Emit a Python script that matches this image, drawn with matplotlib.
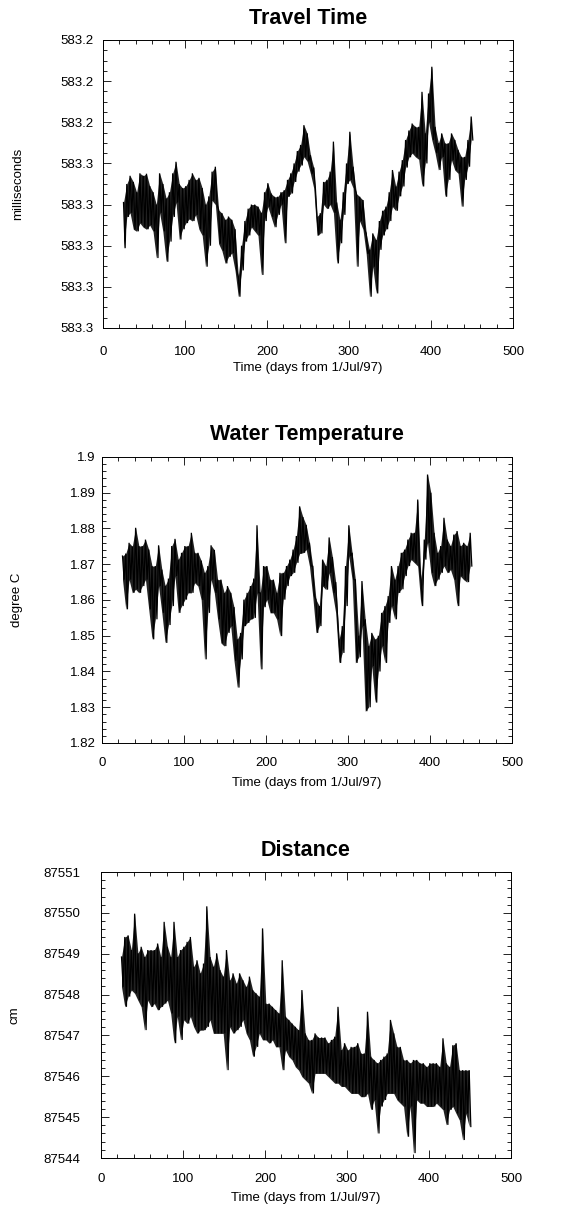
import numpy as np
import matplotlib
matplotlib.use("Agg")
import matplotlib.pyplot as plt
from matplotlib.ticker import MultipleLocator, FixedLocator, FixedFormatter

plt.rcParams['font.family'] = ['Liberation Sans', 'DejaVu Sans']

# sampling grid (days from 1/Jul/97)
days = np.arange(25, 452, 2)

# Travel time (ms) (alternating upper / lower excursions)
travel_time = [
    583.2645, 583.2756, 583.2600, 583.2680, 583.2580, 583.2670, 583.2595, 583.2710,
    583.2620, 583.2715, 583.2574, 583.2695, 583.2580, 583.2705, 583.2575, 583.2710,
    583.2605, 583.2700, 583.2620, 583.2715, 583.2650, 583.2780, 583.2574, 583.2670,
    583.2600, 583.2715, 583.2635, 583.2789, 583.2620, 583.2740, 583.2574, 583.2680,
    583.2546, 583.2645, 583.2600, 583.2735, 583.2610, 583.2710, 583.2605, 583.2695,
    583.2590, 583.2685, 583.2574, 583.2690, 583.2590, 583.2675, 583.2585, 583.2710,
    583.2610, 583.2725, 583.2650, 583.2801, 583.2630, 583.2750, 583.2570, 583.2640,
    583.2558, 583.2650, 583.2663, 583.2745, 583.2671, 583.2762, 583.2687, 583.2793,
    583.2679, 583.2777, 583.2687, 583.2768, 583.2710, 583.2810, 583.2825, 583.2874,
    583.2750, 583.2810, 583.2690, 583.2740, 583.2660, 583.2725, 583.2650, 583.2705,
    583.2650, 583.2715, 583.2655, 583.2725, 583.2670, 583.2821, 583.2620, 583.2690,
    583.2598, 583.2655, 583.2623, 583.2680, 583.2631, 583.2705, 583.2631, 583.2675,
    583.2620, 583.2650, 583.2615, 583.2744, 583.2590, 583.2631, 583.2574, 583.2623,
    583.2550, 583.2595, 583.2520, 583.2570, 583.2505, 583.2555, 583.2457, 583.2534,
    583.2477, 583.2545, 583.2530, 583.2575, 583.2560, 583.2610, 583.2679, 583.2725,
    583.2671, 583.2720, 583.2595, 583.2650, 583.2590, 583.2660, 583.2570, 583.2650,
    583.2497, 583.2670, 583.2645, 583.2793, 583.2687, 583.2744, 583.2620, 583.2675,
    583.2550, 583.2600, 583.2473, 583.2590, 583.2558, 583.2610, 583.2623, 583.2801,
    583.2631, 583.2690, 583.2639, 583.2710, 583.2720, 583.2770, 583.2760, 583.2874,
    583.2720, 583.2801, 583.2736, 583.2866, 583.2690, 583.2760, 583.2665, 583.2725,
    583.2655, 583.2710, 583.2620, 583.2690, 583.2566, 583.2655, 583.2606, 583.2665,
    583.2570, 583.2630, 583.2542, 583.2606, 583.2493, 583.2560, 583.2470, 583.2535,
    583.2453, 583.2525, 583.2461, 583.2534, 583.2461, 583.2540, 583.2376, 583.2606,
    583.2477, 583.2550, 583.2380, 583.2450, 583.2315, 583.2493, 583.2461, 583.2525,
    583.2501, 583.2566, 583.2477, 583.2534, 583.2501, 583.2631, 583.2501, 583.2590,
    583.2477, 583.2542, 583.2493, 583.2566, 583.2517, 583.2574, 583.2534, 583.2655,
    583.2534, 583.2590, 583.2493, 583.2558, 583.2436, 583.2493,
]

# Water temperature (degree C)
water_temp = [
    1.8723, 1.8657, 1.8730, 1.8574, 1.8760, 1.8657, 1.8750, 1.8620,
    1.8802, 1.8630, 1.8751, 1.8620, 1.8751, 1.8639, 1.8769, 1.8657,
    1.8741, 1.8574, 1.8695, 1.8490, 1.8695, 1.8546, 1.8753, 1.8639,
    1.8685, 1.8564, 1.8640, 1.8480, 1.8660, 1.8530, 1.8751, 1.8583,
    1.8771, 1.8667, 1.8713, 1.8564, 1.8732, 1.8583, 1.8751, 1.8601,
    1.8751, 1.8620, 1.8788, 1.8620, 1.8732, 1.8648, 1.8732, 1.8639,
    1.8710, 1.8600, 1.8676, 1.8434, 1.8695, 1.8564, 1.8753, 1.8657,
    1.8740, 1.8620, 1.8657, 1.8546, 1.8657, 1.8480, 1.8620, 1.8471,
    1.8639, 1.8508, 1.8620, 1.8527, 1.8580, 1.8430, 1.8490, 1.8355,
    1.8508, 1.8434, 1.8601, 1.8527, 1.8620, 1.8536, 1.8639, 1.8546,
    1.8660, 1.8550, 1.8809, 1.8620, 1.8620, 1.8406, 1.8695, 1.8580,
    1.8695, 1.8601, 1.8657, 1.8564, 1.8657, 1.8564, 1.8620, 1.8546,
    1.8676, 1.8499, 1.8676, 1.8601, 1.8695, 1.8639, 1.8713, 1.8667,
    1.8741, 1.8676, 1.8779, 1.8704, 1.8862, 1.8730, 1.8832, 1.8732,
    1.8810, 1.8741, 1.8760, 1.8695, 1.8695, 1.8611, 1.8601, 1.8508,
    1.8583, 1.8527, 1.8713, 1.8639, 1.8695, 1.8629, 1.8775, 1.8676,
    1.8720, 1.8620, 1.8650, 1.8564, 1.8490, 1.8424, 1.8527, 1.8452,
    1.8695, 1.8583, 1.8809, 1.8723, 1.8732, 1.8657, 1.8657, 1.8424,
    1.8500, 1.8440, 1.8653, 1.8527, 1.8546, 1.8289, 1.8471, 1.8300,
    1.8508, 1.8415, 1.8490, 1.8313, 1.8500, 1.8400, 1.8564, 1.8471,
    1.8583, 1.8424, 1.8611, 1.8536, 1.8695, 1.8583, 1.8657, 1.8546,
    1.8695, 1.8620, 1.8732, 1.8630, 1.8741, 1.8667, 1.8769, 1.8695,
    1.8788, 1.8713, 1.8788, 1.8704, 1.8881, 1.8695, 1.8657, 1.8583,
    1.8769, 1.8713, 1.8951, 1.8760, 1.8900, 1.8676, 1.8788, 1.8639,
    1.8732, 1.8657, 1.8751, 1.8676, 1.8830, 1.8695, 1.8769, 1.8676,
    1.8751, 1.8685, 1.8783, 1.8657, 1.8793, 1.8583, 1.8751, 1.8667,
    1.8760, 1.8657, 1.8751, 1.8650, 1.8788, 1.8695,
]

# Distance (cm)
distance = [
    87548.92, 87548.19, 87549.41, 87547.70, 87549.45, 87547.95, 87549.09, 87548.11,
    87549.98, 87548.03, 87549.01, 87547.86, 87549.17, 87547.70, 87548.92, 87547.13,
    87549.09, 87547.86, 87549.09, 87547.70, 87549.09, 87547.78, 87549.25, 87547.62,
    87548.92, 87547.70, 87549.78, 87547.78, 87549.17, 87547.86, 87548.92, 87547.54,
    87549.78, 87546.81, 87548.92, 87547.46, 87549.09, 87546.89, 87549.17, 87547.38,
    87549.29, 87547.29, 87549.41, 87547.46, 87548.68, 87547.21, 87548.84, 87547.05,
    87548.52, 87547.13, 87548.76, 87547.13, 87550.16, 87547.21, 87548.92, 87547.38,
    87548.68, 87547.05, 87549.01, 87547.05, 87548.60, 87547.05, 87548.44, 87547.05,
    87549.09, 87546.15, 87548.35, 87547.21, 87548.52, 87547.05, 87548.27, 87547.13,
    87548.52, 87547.21, 87548.35, 87547.38, 87548.19, 87547.05, 87548.44, 87546.89,
    87548.11, 87546.48, 87548.03, 87546.72, 87547.95, 87547.05, 87549.62, 87546.89,
    87547.78, 87546.89, 87547.78, 87546.81, 87547.70, 87546.89, 87547.62, 87546.72,
    87547.54, 87546.72, 87548.84, 87546.15, 87547.46, 87546.64, 87547.38, 87546.48,
    87547.29, 87546.40, 87547.21, 87546.23, 87547.13, 87546.15, 87548.11, 87545.99,
    87547.05, 87545.91, 87546.89, 87545.83, 87546.89, 87545.58, 87547.05, 87546.07,
    87546.95, 87546.07, 87546.95, 87546.07, 87546.95, 87546.07, 87546.81, 87545.99,
    87546.89, 87545.91, 87546.97, 87545.83, 87547.70, 87545.83, 87546.64, 87545.75,
    87546.81, 87545.75, 87546.64, 87545.66, 87546.72, 87545.58, 87546.72, 87545.58,
    87546.81, 87545.58, 87546.56, 87545.50, 87546.56, 87545.50, 87547.58, 87545.58,
    87546.48, 87545.18, 87546.40, 87545.42, 87546.32, 87544.60, 87546.40, 87545.26,
    87546.48, 87545.42, 87546.56, 87545.58, 87547.38, 87545.58, 87547.05, 87545.58,
    87546.72, 87545.42, 87546.72, 87545.34, 87546.40, 87545.26, 87546.40, 87544.52,
    87546.32, 87545.26, 87546.40, 87544.12, 87546.40, 87545.42, 87546.32, 87545.34,
    87546.32, 87545.34, 87546.23, 87545.26, 87546.32, 87545.26, 87546.32, 87545.26,
    87546.32, 87545.34, 87546.23, 87545.26, 87546.93, 87545.18, 87546.32, 87544.81,
    87546.23, 87545.18, 87546.76, 87545.26, 87546.81, 87545.09, 87546.15, 87544.93,
    87546.15, 87544.44, 87546.15, 87545.09, 87546.15, 87544.77,
]

# axis ticks and labels
x_ticks = [0, 100, 200, 300, 400, 500]
tt_ticks = [583.225, 583.235, 583.245, 583.255, 583.265, 583.275, 583.285, 583.295]
tt_labels = ["583.2", "583.2", "583.2", "583.3", "583.3", "583.3", "583.3", "583.3"]
wt_ticks = [1.82, 1.83, 1.84, 1.85, 1.86, 1.87, 1.88, 1.89, 1.90]
wt_labels = ["1.82", "1.83", "1.84", "1.85", "1.86", "1.87", "1.88", "1.89", "1.9"]
d_ticks = [87544, 87545, 87546, 87547, 87548, 87549, 87550, 87551]
d_labels = [str(v) for v in d_ticks]

W, H = 571, 1207
fig = plt.figure(figsize=(W / 100, H / 100), dpi=100)

FS = 9.5
XLABEL = "Time (days from 1/Jul/97)"


def make_panel(rect_px, title, y, yticks, ylabels, ylim, yminor, ylabel,
               ylabel_x, ypad, xpad, xlabel_y):
    l, t, r, b = rect_px
    ax = fig.add_axes([l / W, 1 - b / H, (r - l) / W, (b - t) / H])
    yy = np.asarray(y)
    # dense band between successive upper / lower excursions, trace on top
    ax.fill_between(days[0::2], yy[0::2], yy[1::2], color="#222222", lw=0)
    ax.plot(days, yy, color="black", lw=0.9, solid_joinstyle="miter")
    ax.set_xlim(0, 500)
    ax.set_ylim(*ylim)
    ax.xaxis.set_major_locator(FixedLocator(x_ticks))
    ax.xaxis.set_minor_locator(MultipleLocator(20))
    ax.yaxis.set_major_locator(FixedLocator(yticks))
    ax.yaxis.set_major_formatter(FixedFormatter(ylabels))
    ax.yaxis.set_minor_locator(MultipleLocator(yminor))
    ax.tick_params(which="both", direction="in", top=True, right=True,
                   width=0.6, labelsize=FS, color="black")
    ax.tick_params(which="major", length=6)
    ax.tick_params(which="minor", length=3)
    ax.tick_params(axis="y", pad=ypad)
    ax.tick_params(axis="x", pad=xpad)
    for s in ax.spines.values():
        s.set_linewidth(0.7)
    ax.text(0.5, 1 + 22 / (b - t), title, transform=ax.transAxes,
            ha="center", va="center", fontsize=15.5, fontweight="bold")
    fig.text(ylabel_x / W, 1 - (t + b) / 2 / H, ylabel, rotation=90,
             ha="center", va="center", fontsize=FS)
    fig.text((l + r) / 2 / W, 1 - xlabel_y / H, XLABEL,
             ha="center", va="center", fontsize=FS)
    return ax


make_panel((103, 40, 513, 328), "Travel Time", travel_time, tt_ticks, tt_labels,
           (583.295, 583.225), 0.0025, "milliseconds", 18, 7, 13, 368)
make_panel((102, 457, 512, 743), "Water Temperature", water_temp, wt_ticks, wt_labels,
           (1.82, 1.90), 0.002, "degree C", 17, 4.5, 10, 783)
make_panel((101, 872, 511, 1158), "Distance", distance, d_ticks, d_labels,
           (87544, 87551), 0.2, "cm", 15, 15, 11, 1198)

fig.savefig("out.png", dpi=100)
